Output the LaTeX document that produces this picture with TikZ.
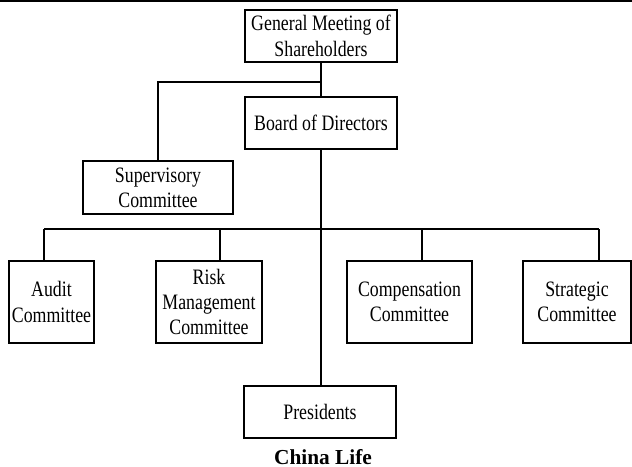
\documentclass[tikz,border=0pt]{standalone}
\usepackage{fontspec}
\setmainfont{Liberation Serif}
\newfontfamily\boxfont{Liberation Serif}[FakeStretch=0.81]
\tikzset{
  orgbox/.style={draw, line width=0.8pt, align=center, inner sep=0pt,
    font=\boxfont\fontsize{16.5}{19}\selectfont},
  wide/.style={minimum width=114pt, minimum height=39pt},
  tall/.style={minimum height=61.5pt}
}
\begin{document}
\begin{tikzpicture}[x=0.75pt,y=-0.75pt,line width=0.8pt]
      \useasboundingbox (0,0) rectangle (632,467);
      \draw[line width=1.6pt] (0,1) -- (632,1);
      \draw
        (321,36) node[orgbox,wide] (gm){General Meeting of\\Shareholders}
        (321,123) node[orgbox,wide] (board){Board of Directors}
        (158,187.5) node[orgbox,minimum width=112.5pt,minimum height=39.75pt] (sup){Supervisory\\Committee}
        (51.5,302) node[orgbox,tall,minimum width=63.75pt] (audit){Audit\\Committee}
        (209,302) node[orgbox,tall,minimum width=79.5pt] (risk){Risk\\Management\\Committee}
        (409.5,302) node[orgbox,tall,minimum width=93.75pt] (comp){Compensation\\Committee}
        (577,302) node[orgbox,tall,minimum width=81pt] (strat){Strategic\\Committee}
        (320,412) node[orgbox,wide] (pres){Presidents}
        (323,464) node[anchor=base,font=\fontsize{16}{19}\selectfont\bfseries] (title){China Life};
      \coordinate (fork) at (321,82);
      \coordinate (bus) at (321,229);
      \coordinate (d1) at (44,229);
      \coordinate (d2) at (220,229);
      \coordinate (d3) at (422,229);
      \coordinate (d4) at (599,229);
      \begin{scope}[-]
        \draw (gm.south) -- (board.north);
        \draw (fork) -| (sup.north);
        \draw[line width=1.2pt] (board.south) -- (board.south |- pres.north);
        \draw (d1) -- (d4);
        \draw (d1) -- (d1 |- audit.north);
        \draw (d2) -- (d2 |- risk.north);
        \draw (d3) -- (d3 |- comp.north);
        \draw (d4) -- (d4 |- strat.north);
      \end{scope}
    \end{tikzpicture}
\end{document}
